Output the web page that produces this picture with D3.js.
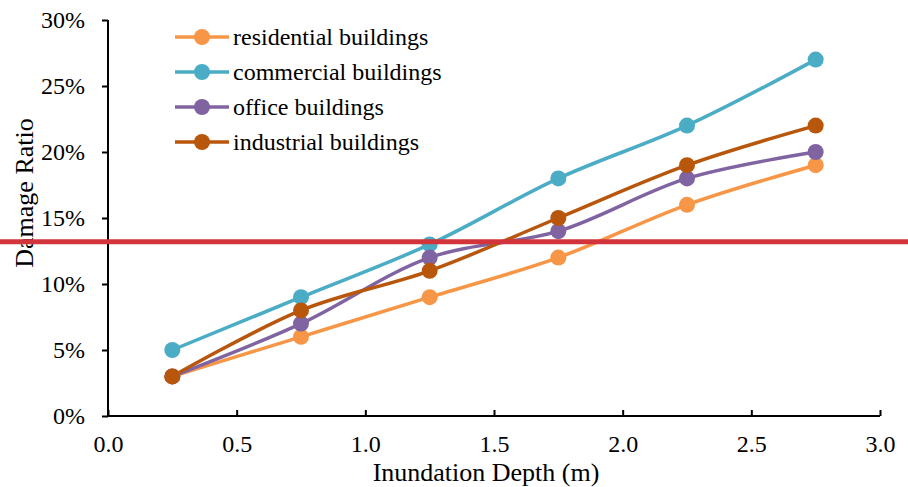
<!DOCTYPE html>
<html><head><meta charset="utf-8">
<script src="https://cdn.jsdelivr.net/npm/d3@7"></script>
<style>body{margin:0;background:#fff}svg{display:block}text{font-family:"Liberation Serif","Times New Roman",serif;fill:#000}</style>
</head><body>
<svg id="c" width="908" height="487"></svg>
<script>
const depths = [0.25, 0.75, 1.25, 1.75, 2.25, 2.75];
const seriesNames = ["residential buildings","commercial buildings","office buildings","industrial buildings"];
const residential = [0.03, 0.06, 0.09, 0.12, 0.16, 0.19];
const commercial  = [0.05, 0.09, 0.13, 0.18, 0.22, 0.27];
const office      = [0.03, 0.07, 0.12, 0.14, 0.18, 0.20];
const industrial  = [0.03, 0.08, 0.11, 0.15, 0.19, 0.22];
const xTicks = [0, 0.5, 1.0, 1.5, 2.0, 2.5, 3.0];
const yTicks = [0, 0.05, 0.10, 0.15, 0.20, 0.25, 0.30];
const refLine = 0.132;
const colors = ["#F79646","#4BACC6","#8064A2","#B8570C"];
const values = [residential, commercial, office, industrial];

const svg = d3.select("#c");
const x = d3.scaleLinear().domain([0,3]).range([108,880]);
const y = d3.scaleLinear().domain([0,0.30]).range([416,20]);

// axes
const ya = svg.append("g").attr("transform","translate(108,0)")
  .call(d3.axisLeft(y).tickValues(yTicks).tickFormat(d3.format(".0%")).tickSize(6).tickPadding(17));
ya.select(".domain").attr("stroke","#000").attr("stroke-width",2).attr("d","M0,20V416");
ya.selectAll(".tick line").attr("stroke","#000").attr("stroke-width",2);
ya.selectAll("text").attr("font-size",24).attr("font-family","Liberation Serif");

const xa = svg.append("g").attr("transform","translate(0,416)")
  .call(d3.axisBottom(x).tickValues(xTicks).tickFormat(d3.format(".1f")).tickSize(-6).tickPadding(19));
xa.select(".domain").attr("stroke","#000").attr("stroke-width",2).attr("d","M108,0H880");
xa.selectAll(".tick line").attr("stroke","#000").attr("stroke-width",2);
xa.selectAll("text").attr("font-size",24).attr("font-family","Liberation Serif");

// axis titles
svg.append("text").attr("x",486).attr("y",481).attr("text-anchor","middle").attr("font-size",26).text("Inundation Depth (m)");
svg.append("text").attr("transform","translate(33,193) rotate(-90)").attr("text-anchor","middle").attr("font-size",26).text("Damage Ratio");

// series
const line = d3.line().x((d,i)=>x(depths[i])).y(d=>y(d)).curve(d3.curveCatmullRom.alpha(0.5));
values.forEach((vals,k)=>{
  svg.append("path").attr("d",line(vals)).attr("fill","none").attr("stroke",colors[k]).attr("stroke-width",3.5);
});
values.forEach((vals,k)=>{
  svg.selectAll(null).data(vals).enter().append("circle")
    .attr("cx",(d,i)=>x(depths[i])).attr("cy",d=>y(d)).attr("r",8).attr("fill",colors[k]);
});

// legend
const lg = svg.append("g");
seriesNames.forEach((n,k)=>{
  const yy = 37 + k*35;
  lg.append("line").attr("x1",175).attr("x2",229).attr("y1",yy).attr("y2",yy).attr("stroke",colors[k]).attr("stroke-width",3.5);
  lg.append("circle").attr("cx",202).attr("cy",yy).attr("r",8).attr("fill",colors[k]);
  lg.append("text").attr("x",233).attr("y",yy+8).attr("font-size",24).text(n);
});

// red reference line
svg.append("line").attr("x1",0).attr("x2",908).attr("y1",y(refLine)).attr("y2",y(refLine))
  .attr("stroke","#D1343B").attr("stroke-width",5);
</script>
</body></html>
